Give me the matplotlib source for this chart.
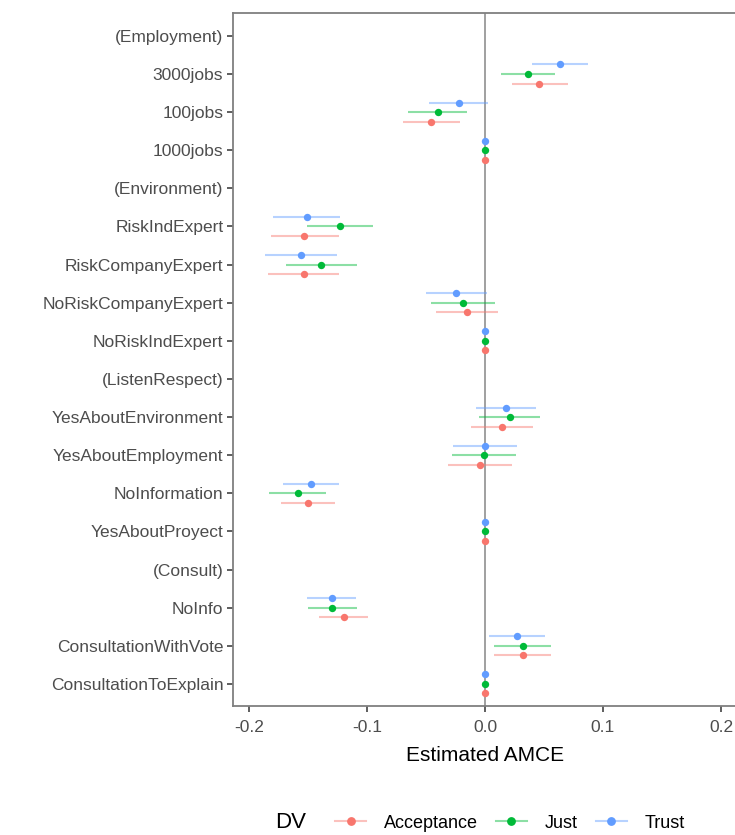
import numpy as np
import matplotlib
matplotlib.use("Agg")
import matplotlib.pyplot as plt
from matplotlib.lines import Line2D

plt.rcParams['font.family'] = ['Liberation Sans', 'DejaVu Sans']

nan = np.nan

categories = ["(Employment)", "3000jobs", "100jobs", "1000jobs",
              "(Environment)", "RiskIndExpert", "RiskCompanyExpert",
              "NoRiskCompanyExpert", "NoRiskIndExpert",
              "(ListenRespect)", "YesAboutEnvironment", "YesAboutEmployment",
              "NoInformation", "YesAboutProyect",
              "(Consult)", "NoInfo", "ConsultationWithVote", "ConsultationToExplain"]

# estimates and 95% CI per DV (NaN = header row)
acc_est = [nan, 0.046, -0.0455, 0, nan, -0.153, -0.1537, -0.0155, 0,
           nan, 0.0147, -0.0042, -0.1503, 0, nan, -0.1198, 0.0319, 0]
acc_lo = [nan, 0.0229, -0.0698, 0, nan, -0.1816, -0.1842, -0.0418, 0,
          nan, -0.0116, -0.0311, -0.1732, 0, nan, -0.1407, 0.0076, 0]
acc_hi = [nan, 0.0701, -0.0209, 0, nan, -0.124, -0.1234, 0.0113, 0,
          nan, 0.0407, 0.0232, -0.1268, 0, nan, -0.0992, 0.0556, 0]

just_est = [nan, 0.0367, -0.0401, 0, nan, -0.1229, -0.139, -0.0189, 0,
            nan, 0.0212, -0.0011, -0.1588, 0, nan, -0.1294, 0.0319, 0]
just_lo = [nan, 0.0133, -0.065, 0, nan, -0.1511, -0.1689, -0.0458, 0,
           nan, -0.0048, -0.0282, -0.1828, 0, nan, -0.1503, 0.0076, 0]
just_hi = [nan, 0.0596, -0.0153, 0, nan, -0.0946, -0.1088, 0.0082, 0,
           nan, 0.0469, 0.026, -0.1345, 0, nan, -0.1082, 0.0562, 0]

trust_est = [nan, 0.0636, -0.0223, 0, nan, -0.1511, -0.1562, -0.0246, 0,
             nan, 0.0178, -0.0003, -0.1475, 0, nan, -0.1297, 0.0271, 0]
trust_lo = [nan, 0.0395, -0.0472, 0, nan, -0.1794, -0.1864, -0.0503, 0,
            nan, -0.0076, -0.0271, -0.1709, 0, nan, -0.1508, 0.0031, 0]
trust_hi = [nan, 0.0876, 0.0023, 0, nan, -0.1229, -0.1257, 0.0017, 0,
            nan, 0.0435, 0.0271, -0.124, 0, nan, -0.109, 0.0508, 0]

dv_names = ["Acceptance", "Just", "Trust"]
dv_colors = ["#F8766D", "#00BA38", "#619CFF"]
dv_offsets = [0.25, 0.0, -0.25]

fig = plt.figure(figsize=(7.35, 8.35), dpi=100)
ax = fig.add_axes([233 / 735, 129 / 835, 504 / 735, 693 / 835])

y = np.arange(len(categories))
ax.axvline(0, color="#a0a0a0", lw=1.4, zorder=1)

series = [(acc_est, acc_lo, acc_hi), (just_est, just_lo, just_hi),
          (trust_est, trust_lo, trust_hi)]
for (est, lo, hi), col, off in zip(series, dv_colors, dv_offsets):
    est, lo, hi = np.array(est), np.array(lo), np.array(hi)
    yy = y + off
    ax.hlines(yy, lo, hi, color=col, alpha=0.45, lw=1.5, zorder=2)
    ax.plot(est, yy, "o", color=col, ms=5.3, mew=0, zorder=3)

ax.set_xlim(-0.2136, 0.2136)
ax.set_ylim(len(categories) - 0.42, -0.6)
ax.set_yticks(y)
ax.set_yticklabels(categories)
ax.set_xticks([-0.2, -0.1, 0.0, 0.1, 0.2])
ax.set_xticklabels(["-0.2", "-0.1", "0.0", "0.1", "0.2"])
ax.tick_params(axis="both", colors="#333333", labelcolor="#4d4d4d",
               labelsize=12.5, length=4, width=1.1)
ax.tick_params(axis="x", pad=6)
ax.tick_params(axis="y", pad=3)
for s in ax.spines.values():
    s.set_color("#7f7f7f")
    s.set_linewidth(1.3)
ax.set_xlabel("Estimated AMCE", fontsize=15, color="black", labelpad=8)

handles = [Line2D([0], [0], color=matplotlib.colors.to_rgba(c, 0.45), lw=1.5,
                  marker="o", ms=5.3, mfc=c, mec=c) for c in dv_colors]
fig.text(275 / 735, 12 / 835, "DV", fontsize=16, va="center", ha="left")
fig.legend(handles, dv_names, loc="center", bbox_to_anchor=(510 / 735, 12 / 835),
           ncol=3, frameon=False, fontsize=13, handlelength=1.7,
           handletextpad=1.0, columnspacing=1.0, borderaxespad=0,
           borderpad=0)

fig.savefig("out.png", dpi=100)
